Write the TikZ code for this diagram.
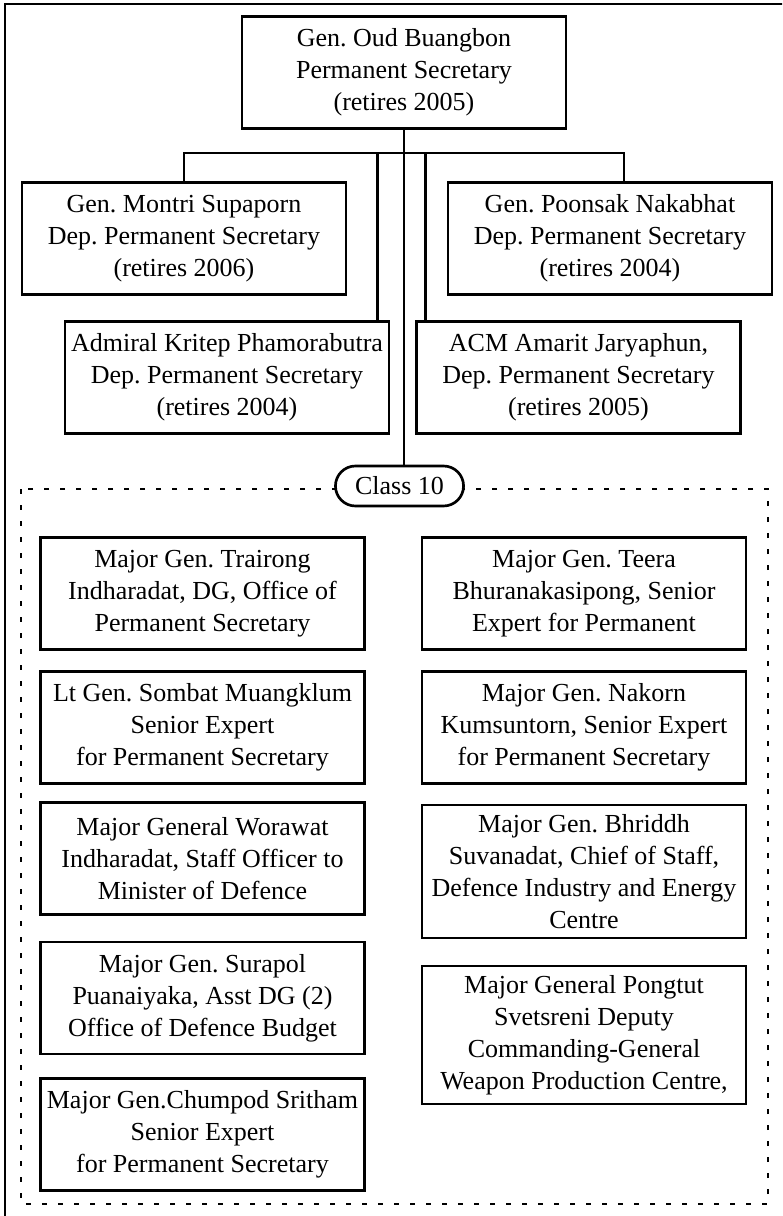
\documentclass[tikz,border=0pt]{standalone}
\usepackage{fontspec}
\setmainfont{Liberation Serif}
\frenchspacing
\usetikzlibrary{shapes.misc}
\tikzset{
  officer/.style={
    rectangle, draw=black, line width=2pt, minimum width=243pt, minimum height=84pt,
    inner xsep=2pt, inner ysep=7pt, align=center, font=\fontsize{19.5}{24}\selectfont
  },
  classtag/.style={
    rounded rectangle, draw=black, line width=2pt, fill=white,
    minimum width=102.75pt, minimum height=30pt, font=\fontsize{19.5}{24}\selectfont
  },
  link/.style={line width=2pt},
  group/.style={line width=2pt, dash pattern=on 4pt off 8pt}
}

\begin{document}
\begin{tikzpicture}[x=0.75pt, y=-0.75pt]
      \clip (0,0) rectangle (782,1216);
      % Frame
      \draw[link] (5,4) rectangle (800,1235);

      % Permanent secretary
      \node[officer] (oud) at (404,72.5) {Gen. Oud Buangbon\\Permanent Secretary\\(retires 2005)};

      % Deputies
      \node[officer] (montri) at (184,238.5) {Gen. Montri Supaporn\\Dep. Permanent Secretary\\(retires 2006)};
      \node[officer] (poonsak) at (610,238.5) {Gen. Poonsak Nakabhat\\Dep. Permanent Secretary\\(retires 2004)};
      \node[officer] (kritep) at (227,377.5) {Admiral Kritep Phamorabutra\\Dep. Permanent Secretary\\(retires 2004)};
      \node[officer] (amarit) at (578.5,377.5) {ACM Amarit Jaryaphun,\\Dep. Permanent Secretary\\(retires 2005)};

      % Class 10 group
      \draw[group] (21,489) rectangle (768,1204);
      \node[classtag] (class) at (399.5,486) {Class 10};

      \node[officer] (trairong) at (202.5,593.5) {Major Gen. Trairong\\Indharadat, DG, Office of\\Permanent Secretary};
      \node[officer] (sombat) at (202.5,727.5) {Lt Gen. Sombat Muangklum\\Senior Expert\\for Permanent Secretary};
      \node[officer] (worawat) at (202.5,858.5) {Major General Worawat\\Indharadat, Staff Officer to\\Minister of Defence};
      \node[officer] (surapol) at (202.5,998) {Major Gen. Surapol\\Puanaiyaka, Asst DG (2)\\Office of Defence Budget};
      \node[officer] (chumpod) at (202.5,1134.5) {Major Gen.Chumpod Sritham\\Senior Expert\\for Permanent Secretary};

      \node[officer] (teera) at (584,593.5) {Major Gen. Teera\\Bhuranakasipong, Senior\\Expert for Permanent};
      \node[officer] (nakorn) at (584,727.5) {Major Gen. Nakorn\\Kumsuntorn, Senior Expert\\for Permanent Secretary};
      \node[officer] (bhriddh) at (584,871.5) {Major Gen. Bhriddh\\Suvanadat, Chief of Staff,\\Defence Industry and Energy\\Centre};
      \node[officer] (pongtut) at (584,1035) {Major General Pongtut\\Svetsreni Deputy\\Commanding-General\\Weapon Production Centre,};

      % Lines
      \coordinate (bar) at (404,153);
      \coordinate (kp) at ([xshift=-9.75pt]kritep.north east);
      \coordinate (ap) at ([xshift=7.5pt]amarit.north west);
      \draw[link] (oud.south) -- (oud.south |- class.north);
      \draw[link] (montri.north) |- (bar) -| ([xshift=10.5pt]poonsak.north);
      \draw[link] (kp) -- (kp |- bar);
      \draw[link] (ap) -- (ap |- bar);
\end{tikzpicture}
\end{document}
